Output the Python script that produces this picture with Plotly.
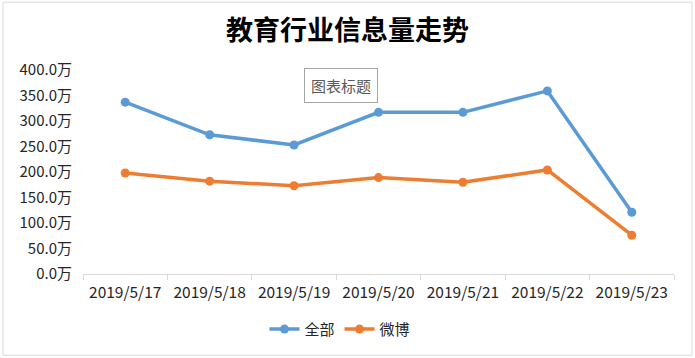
import plotly.graph_objects as go

categories = ["2019/5/17", "2019/5/18", "2019/5/19", "2019/5/20", "2019/5/21", "2019/5/22", "2019/5/23"]
all_values = [337, 273, 253, 317, 317, 359, 121]
weibo_values = [198, 182, 173, 189, 180, 204, 76]
y_tickvals = [0, 50, 100, 150, 200, 250, 300, 350, 400]
y_ticktext = ["0.0万", "50.0万", "100.0万", "150.0万", "200.0万", "250.0万", "300.0万", "350.0万", "400.0万"]

W, H = 695, 358
L, R, T, B = 83, 21, 70, 83.5
pw, ph = W - L - R, H - T - B

def px_x(p):
    return (p - L) / pw

def px_y(p):
    return (H - B - p) / ph

font = "Microsoft YaHei, Noto Sans CJK SC, sans-serif"

fig = go.Figure()
fig.add_trace(go.Scatter(x=categories, y=all_values, name="全部", mode="lines+markers",
                         line=dict(color="#5B9BD5", width=3.5),
                         marker=dict(color="#5B9BD5", size=9)))
fig.add_trace(go.Scatter(x=categories, y=weibo_values, name="微博", mode="lines+markers",
                         line=dict(color="#ED7D31", width=3.5),
                         marker=dict(color="#ED7D31", size=9)))

fig.update_layout(
    width=W, height=H,
    margin=dict(l=L, r=R, t=T, b=B),
    paper_bgcolor="white", plot_bgcolor="white",
    font=dict(family=font, color="#404040", size=13),
    title=dict(text="<b>教育行业信息量走势</b>", x=0.5, xanchor="center",
               y=1 - 31 / H, yanchor="middle",
               font=dict(family=font, size=27, color="#000000")),
    xaxis=dict(type="category", range=[-0.5, 6.5], showgrid=False, zeroline=False,
               showline=True, linecolor="#D9D9D9", linewidth=1,
               ticks="outside", tickson="boundaries", ticklen=5, tickcolor="#D9D9D9",
               tickfont=dict(size=15.5, color="#262626"), ticklabelstandoff=4),
    yaxis=dict(range=[0, 400], showgrid=False, zeroline=False, showline=False,
               tickvals=y_tickvals, ticktext=y_ticktext, ticks="",
               tickfont=dict(size=15, color="#262626"), ticklabelstandoff=10),
    showlegend=True,
    legend=dict(orientation="h", x=px_x(340), xanchor="center", y=px_y(330), yanchor="middle",
                font=dict(size=15, color="#262626"), itemwidth=30, tracegroupgap=0),
    shapes=[dict(type="rect", xref="paper", yref="paper",
                 x0=px_x(3), x1=px_x(692), y0=px_y(356), y1=px_y(2),
                 line=dict(color="#D9D9D9", width=1), fillcolor="rgba(0,0,0,0)", layer="below")],
    annotations=[dict(text="图表标题", xref="paper", yref="paper",
                      x=px_x(341), y=px_y(86), xanchor="center", yanchor="middle",
                      showarrow=False, font=dict(size=15, color="#595959"),
                      bordercolor="#A6A6A6", borderwidth=1, borderpad=6, bgcolor="white")],
)

fig.write_html("out.html", config={"displayModeBar": False},
               post_script="document.body.style.margin='0';")
